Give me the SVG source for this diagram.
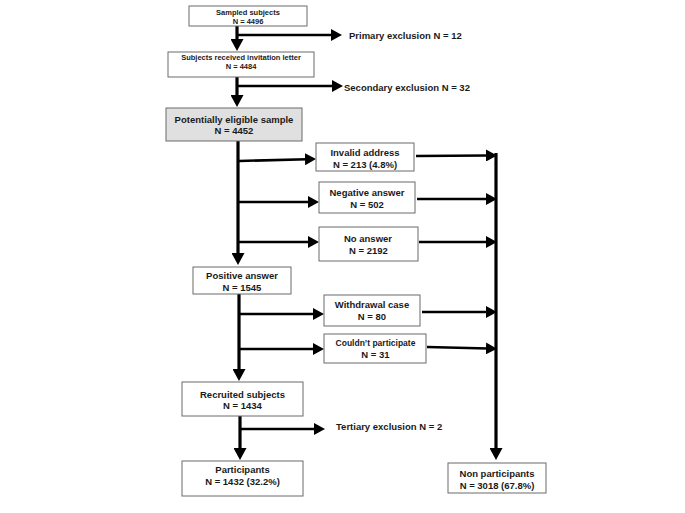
<svg xmlns="http://www.w3.org/2000/svg" width="685" height="513" viewBox="0 0 685 513">
<style>
.box{fill:#fff;stroke:#6b6b6b;stroke-width:1}
.gray{fill:#e0e0e0}
text{font-family:"Liberation Sans",Arial,sans-serif;font-weight:bold;fill:#1a1a1a;text-anchor:middle;font-size:9.5px}
.sm{font-size:7.5px}
.md{font-size:8.5px}
.lbl{text-anchor:start}
.h{stroke:#000;stroke-width:2.6;fill:none;marker-end:url(#ah)}
.v{stroke:#000;stroke-width:3.2;fill:none;marker-end:url(#av)}
</style>
<defs>
<marker id="ah" markerUnits="userSpaceOnUse" markerWidth="12" markerHeight="12" refX="2" refY="6" orient="auto"><path d="M0,0 L11,6 L0,12 z" fill="#000"/></marker>
<marker id="av" markerUnits="userSpaceOnUse" markerWidth="13" markerHeight="13" refX="2" refY="6.5" orient="auto"><path d="M0,0 L12,6.5 L0,13 z" fill="#000"/></marker>
</defs>
<rect width="685" height="513" fill="#fff"/>
<g id="connectors">
<line class="v" x1="237" y1="26" x2="237" y2="41"/>
<line class="h" x1="237" y1="35" x2="333" y2="35"/>
<line class="v" x1="237" y1="77" x2="237" y2="97"/>
<line class="h" x1="237" y1="86" x2="334" y2="86"/>
<line class="v" x1="238" y1="141" x2="238" y2="255"/>
<line class="h" x1="239" y1="161" x2="307" y2="159.2"/>
<line class="h" x1="238" y1="202" x2="310" y2="202"/>
<line class="h" x1="238" y1="242" x2="310" y2="242"/>
<line class="h" x1="416" y1="156" x2="488" y2="155.5"/>
<line class="h" x1="417" y1="199" x2="488" y2="199"/>
<line class="h" x1="419" y1="242" x2="488" y2="242"/>
<line class="h" x1="422" y1="312" x2="488" y2="312"/>
<line class="h" x1="427" y1="347" x2="488" y2="348.5"/>
<line class="v" x1="496" y1="153" x2="496" y2="450"/>
<line class="v" x1="239" y1="294" x2="239" y2="371"/>
<line class="h" x1="239" y1="314" x2="315" y2="314"/>
<line class="h" x1="239" y1="349" x2="315" y2="349"/>
<line class="v" x1="240" y1="416" x2="240" y2="450"/>
<line class="h" x1="240" y1="429" x2="316" y2="429"/>
</g>
<g id="sampled"><rect class="box" x="189" y="6" width="118" height="20"/><text class="sm" x="248" y="15">Sampled subjects</text><text class="sm" x="248" y="23.5">N = 4496</text></g>
<g id="primary"><text class="lbl" x="349" y="38.5">Primary exclusion N = 12</text></g>
<g id="received"><rect class="box" x="168" y="52" width="146" height="25"/><text class="sm" x="241" y="60">Subjects received invitation letter</text><text class="sm" x="241" y="68.5">N = 4484</text></g>
<g id="secondary"><text class="lbl" x="344" y="90.5">Secondary exclusion N = 32</text></g>
<g id="eligible"><rect class="box gray" x="166" y="108" width="136" height="33"/><text x="234" y="122.5">Potentially eligible sample</text><text x="234" y="133.5">N = 4452</text></g>
<g id="invalid"><rect class="box" x="316" y="143" width="98" height="28"/><text x="365" y="155.5">Invalid address</text><text x="365" y="167.5">N = 213 (4.8%)</text></g>
<g id="negative"><rect class="box" x="319" y="182" width="96" height="31"/><text x="367" y="195.5">Negative answer</text><text x="367" y="207.5">N = 502</text></g>
<g id="noanswer"><rect class="box" x="319" y="227" width="99" height="34"/><text x="368" y="241.5">No answer</text><text x="368.5" y="253.5">N = 2192</text></g>
<g id="positive"><rect class="box" x="193" y="267" width="98" height="27"/><text x="242" y="278.5">Positive answer</text><text x="242" y="290.5">N = 1545</text></g>
<g id="withdrawal"><rect class="box" x="324" y="295" width="96" height="31"/><text x="372" y="307.5">Withdrawal case</text><text x="372" y="319.5">N = 80</text></g>
<g id="couldnt"><rect class="box" x="324" y="334" width="102" height="29"/><text class="md" x="375.5" y="346">Couldn’t participate</text><text x="375.5" y="357.5">N = 31</text></g>
<g id="recruited"><rect class="box" x="182" y="382" width="121" height="34"/><text x="242.5" y="397.5">Recruited subjects</text><text x="242.5" y="408.5">N = 1434</text></g>
<g id="tertiary"><text class="lbl" x="336" y="429.5">Tertiary exclusion N = 2</text></g>
<g id="participants"><rect class="box" x="182" y="461" width="121" height="35"/><text x="242.5" y="472.5">Participants</text><text x="242.5" y="484.5">N = 1432 (32.2%)</text></g>
<g id="nonparticipants"><rect class="box" x="448" y="463" width="98" height="30"/><text x="497" y="476.5">Non participants</text><text x="497" y="488.5">N = 3018 (67.8%)</text></g>
</svg>
